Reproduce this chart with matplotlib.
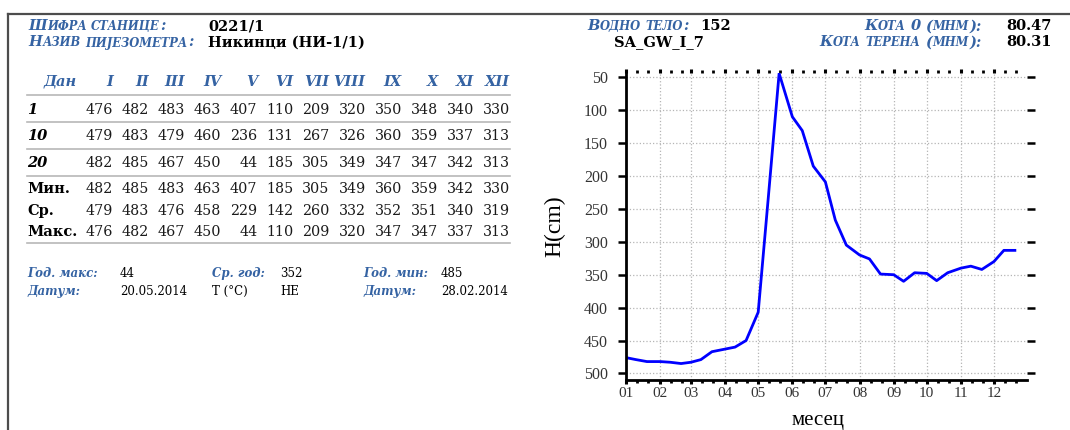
import datetime as dt
import matplotlib
matplotlib.use('Agg')
import matplotlib.pyplot as plt
from matplotlib.lines import Line2D

# table values (cm below ground)
months_roman = ['I', 'II', 'III', 'IV', 'V', 'VI', 'VII', 'VIII', 'IX', 'X', 'XI', 'XII']
day_1 = [476, 482, 483, 463, 407, 110, 209, 320, 350, 348, 340, 330]
day_10 = [479, 483, 479, 460, 236, 131, 267, 326, 360, 359, 337, 313]
day_20 = [482, 485, 467, 450, 44, 185, 305, 349, 347, 347, 342, 313]
min_vals = [482, 485, 483, 463, 407, 185, 305, 349, 360, 359, 342, 330]
mean_vals = [479, 483, 476, 458, 229, 142, 260, 332, 352, 351, 340, 319]
max_vals = [476, 482, 467, 450, 44, 110, 209, 320, 347, 347, 337, 313]
month_labels = ['01', '02', '03', '04', '05', '06', '07', '08', '09', '10', '11', '12']
y_ticks = [50, 100, 150, 200, 250, 300, 350, 400, 450, 500]

W, H = 1070, 430
BLUE = '#3563a3'
SERIF = 'DejaVu Serif'

fig = plt.figure(figsize=(W / 100, H / 100), dpi=100)
renderer = fig.canvas.get_renderer()


def fx(x):
    return x / W


def fy(y):
    return 1 - y / H


def put(x, y, s, **kw):
    kw.setdefault('family', SERIF)
    return fig.text(fx(x), fy(y), s, va='baseline', **kw)


def label(x, y, s, size=8.5, **kw):
    return put(x, y, s, fontsize=size, style='italic', weight='bold', color=BLUE, **kw)


# fake small caps: lowercase letters become smaller capitals
def smallcaps(x, y, s, big=10.5, small=8.3, ha='left'):
    runs = []
    for ch in s:
        if ch == ' ':
            runs.append([' ', None])
            continue
        size = small if ch.islower() else big
        if runs and runs[-1][1] == size:
            runs[-1][0] += ch.upper()
        else:
            runs.append([ch.upper(), size])
    texts = []
    for t, sz in runs:
        if sz is None:
            texts.append((None, small * 0.35 * 100 / 72))
        else:
            txt = put(0, y, t, fontsize=sz, style='italic', weight='bold', color=BLUE)
            texts.append((txt, txt.get_window_extent(renderer).width + 0.5))
    start = x if ha == 'left' else x - sum(w for _, w in texts)
    for txt, w in texts:
        if txt is not None:
            txt.set_x(fx(start))
        start += w


# frame
fig.add_artist(Line2D([fx(8), fx(8)], [0, fy(14)], color='#4d4d4d', lw=1.6))
fig.add_artist(Line2D([fx(8), 1], [fy(14), fy(14)], color='#4d4d4d', lw=1.6))

# header
smallcaps(28, 30.5, 'Шифра станице:')
smallcaps(28, 46.5, 'Назив пијезометра:')
put(208, 30.5, '0221/1', fontsize=10.5, weight='bold')
put(208, 46.5, 'Никинци (НИ-1/1)', fontsize=10.5, weight='bold')

smallcaps(587, 30.5, 'Водно тело:')
put(731, 30.5, '152', fontsize=10.5, weight='bold', ha='right')
put(659, 46.5, 'SA_GW_I_7', fontsize=10.5, weight='bold', ha='center')
smallcaps(982, 30.5, 'Кота 0 (мнм):', ha='right')
smallcaps(982, 46.5, 'Кота терена (мнм):', ha='right')
put(1052, 30.5, '80.47', fontsize=10.5, weight='bold', ha='right')
put(1052, 46.5, '80.31', fontsize=10.5, weight='bold', ha='right')

# table
col_x = [113 + 36.1 * i for i in range(12)]
label(44, 86, 'Дан', size=10.5)
for cx, r in zip(col_x, months_roman):
    label(cx, 86, r, size=10.5, ha='right')

rows = [('1', day_1, 114, True), ('10', day_10, 140, True), ('20', day_20, 167, True),
        ('Мин.', min_vals, 193, False), ('Ср.', mean_vals, 215, False),
        ('Макс.', max_vals, 236, False)]
for name, vals, yy, ital in rows:
    put(27, yy, name, fontsize=10.5, weight='bold', style='italic' if ital else 'normal')
    for cx, v in zip(col_x, vals):
        put(cx, yy, str(v), fontsize=10.3, ha='right', color='#1a1a1a')

for yy in [95, 122, 149, 176, 243]:
    fig.add_artist(Line2D([fx(27), fx(510)], [fy(yy), fy(yy)], color='#b8b8b8', lw=1.2))

# yearly summary
label(27, 277, 'Год. макс:')
put(120, 277, '44', fontsize=8.5)
label(212, 277, 'Ср. год:')
put(280, 277, '352', fontsize=8.5)
label(363, 277, 'Год. мин:')
put(441, 277, '485', fontsize=8.5)
label(27, 295, 'Датум:')
put(120, 295, '20.05.2014', fontsize=8.5)
put(212, 295, 'T (°C)', fontsize=8.5)
put(280, 295, 'НЕ', fontsize=8.5)
label(363, 295, 'Датум:')
put(441, 295, '28.02.2014', fontsize=8.5)


# chart
def doy(m, d):
    return dt.date(2014, m, d).timetuple().tm_yday


x = [doy(m, d) for m in range(1, 13) for d in (1, 10, 20)]
y = [v for trio in zip(day_1, day_10, day_20) for v in trio]

ax = fig.add_axes([fx(626), fy(380), (1027 - 626) / W, (380 - 72.7) / H])
ax.plot(x, y, color='#0000ff', lw=2)
ax.set_xlim(1, 365)
ax.set_ylim(510, 43)
ax.set_yticks(y_ticks)
ax.set_xticks([doy(m, 1) for m in range(1, 13)])
ax.set_xticklabels(month_labels)
ax.set_xticks([doy(m, d) for m in range(1, 13) for d in (11, 21)], minor=True)
ax.grid(True, which='major', ls=':', color='#b5b5b5', lw=0.9)

for s in ['top', 'right']:
    ax.spines[s].set_visible(False)
for s in ['left', 'bottom']:
    ax.spines[s].set_linewidth(2)

ax.tick_params(axis='x', which='major', top=True, direction='out', length=3, width=2.2, pad=2)
ax.tick_params(axis='x', which='minor', top=True, direction='out', length=2, width=2)
ax.tick_params(axis='y', which='major', right=True, direction='out', length=6, width=1.8, pad=7)
for lab in ax.get_xticklabels() + ax.get_yticklabels():
    lab.set_family('Liberation Serif')
    lab.set_color('#333333')
for lab in ax.get_xticklabels():
    lab.set_fontsize(11)
for lab in ax.get_yticklabels():
    lab.set_fontsize(11.5)

ax.set_ylabel('H(cm)', family='Liberation Serif', fontsize=17)
ax.yaxis.set_label_coords(-0.152, 0.5)
ax.set_xlabel('месец', family='Liberation Serif', fontsize=15, va='baseline')
ax.xaxis.set_label_coords(0.48, -0.148)

fig.savefig('out.png', dpi=100)
